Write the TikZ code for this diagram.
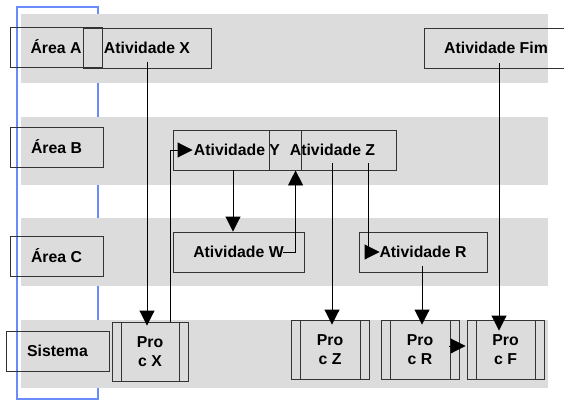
\documentclass[tikz,border=0pt]{standalone}
\usepackage{fontspec}
\setmainfont{Liberation Sans}
\usetikzlibrary{arrows.meta}
\definecolor{bandgray}{RGB}{220,220,220}
\definecolor{laneblue}{RGB}{105,140,250}
\begin{document}
\begin{tikzpicture}[x=1pt,y=-1pt,
  box/.style={draw=black!80, line width=0.9pt, minimum height=40pt, inner sep=0pt,
    font=\bfseries\fontsize{15.8}{19}\selectfont},
  procbox/.style={box, minimum height=59pt, align=center},
  band/.style={fill=bandgray, draw=none},
  arr/.style={draw=black, line width=0.9pt, -{Triangle[length=15pt,width=15pt]}},
  barline/.style={draw=black!80, line width=0.9pt}]
\useasboundingbox (0,0) rectangle (564,401);
\clip (0,0) rectangle (564,401);
% lane frame
\draw[laneblue, line width=1.2pt] (17,7) rectangle (98,399);
% bands
\fill[bandgray] (21,14) rectangle (548,83);
\fill[bandgray] (21,117) rectangle (548,185);
\fill[bandgray] (21,218) rectangle (548,286);
\fill[bandgray] (21,320) rectangle (548,388);
% area labels
\node[box, minimum width=92pt] (areaA) at (56,47) {Área A};
\node[box, minimum width=93pt] (areaB) at (56.5,147) {Área B};
\node[box, minimum width=93pt] (areaC) at (56.5,256) {Área C};
\node[box, minimum width=103pt] (sistema) at (57.5,351) {Sistema};
% activities
\node[box, minimum width=128pt] (atvX) at (147,48) {Atividade X};
\node[box, minimum width=144pt] (fim) at (496,48) {Atividade Fim};
\node[box, minimum width=128pt] (atvY) at (237,150) {Atividade Y};
\node[box, minimum width=127pt] (atvZ) at (332.5,150) {Atividade Z};
\node[box, minimum width=131pt] (atvW) at (238.5,252) {Atividade W};
\node[box, minimum width=128pt] (atvR) at (423,252) {Atividade R};
% processes
\node[procbox, minimum width=76pt] (procX) at (150,351.5) {Pro\\c X};
\node[procbox, minimum width=78pt] (procZ) at (330,349.5) {Pro\\c Z};
\node[procbox, minimum width=78pt] (procR) at (420,349.5) {Pro\\c R};
\node[procbox, minimum width=77pt] (procF) at (505.5,349.5) {Pro\\c F};
\foreach \p in {procX,procZ,procR,procF}{
  \draw[barline] ([xshift=9.5pt]\p.north west) -- ([xshift=9.5pt]\p.south west);
  \draw[barline] ([xshift=-9.5pt]\p.north east) -- ([xshift=-9.5pt]\p.south east);
}
% connector end points
\coordinate (xOut) at (147,62);
\coordinate (pxOut) at (170,322);
\coordinate (yOut) at (233,170);
\coordinate (wOut) at (283,252);
\coordinate (zOut1) at (332,163);
\coordinate (zOut2) at (368,163);
\coordinate (rOut) at (422,266);
\coordinate (fOut) at (499,63);
% connectors
\draw[arr, shorten >=-4pt] (xOut) -- (xOut |- procX.north);
\draw[arr] (pxOut) |- ([xshift=20pt]atvY.west);
\draw[arr] (yOut) -- (yOut |- atvW.north);
\draw[arr] (wOut) -| ([xshift=27pt]atvZ.south west);
\draw[arr, shorten >=-5pt] (zOut1) -- (zOut1 |- procZ.north);
\draw[arr] (zOut2) |- ([xshift=21pt]atvR.west);
\draw[arr, shorten >=-5pt] (rOut) -- (rOut |- procR.north);
\draw[arr] ([xshift=-10pt,yshift=3.5pt]procR.east) -- ([xshift=-1pt,yshift=3.5pt]procF.west);
\draw[arr, shorten >=-11pt] (fOut) -- (fOut |- procF.north);
\end{tikzpicture}
\end{document}
